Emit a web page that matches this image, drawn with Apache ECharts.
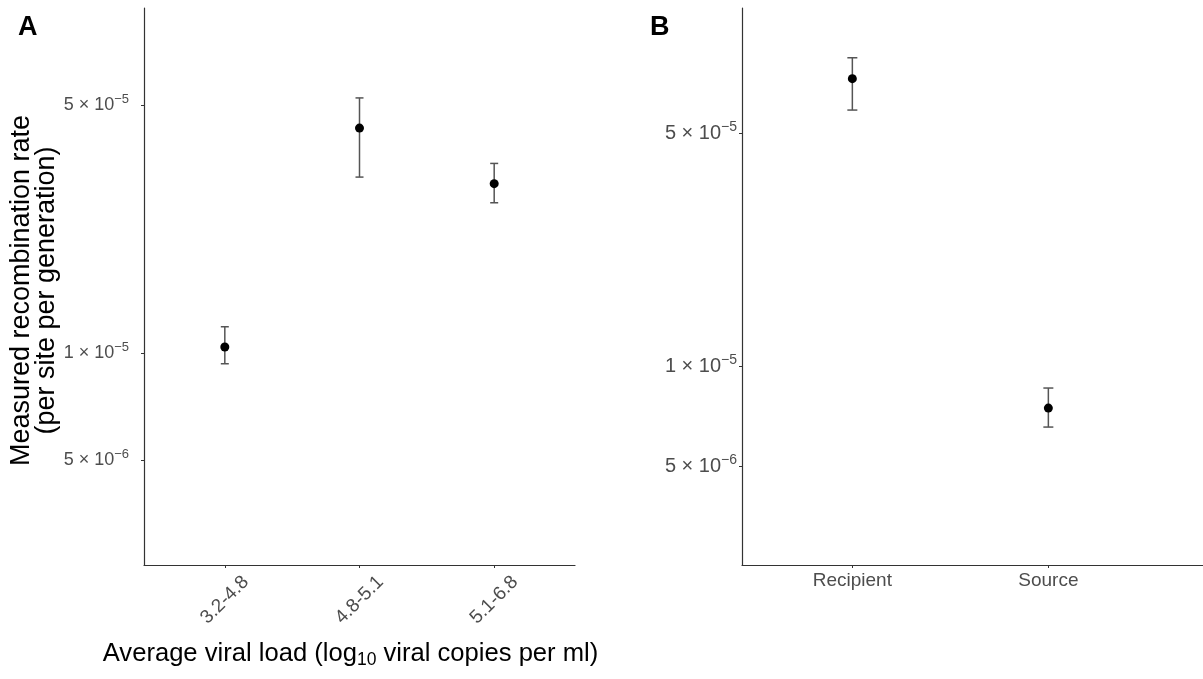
<!DOCTYPE html>
<html>
<head>
<meta charset="utf-8">
<title>Measured recombination rate</title>
<script src="https://cdn.jsdelivr.net/npm/echarts@6/dist/echarts.min.js"></script>
<style>
  html, body { margin: 0; padding: 0; background: #ffffff; }
  #chart { width: 1203px; height: 679px; }
</style>
</head>
<body>
<div id="chart"></div>
<script>
// Panel A: recombination rate by viral-load bin
const loadBins = ['3.2-4.8', '4.8-5.1', '5.1-6.8'];
const rateByLoad = [1.04e-5, 4.30e-5, 3.00e-5];
const lowerByLoad = [9.33e-6, 3.13e-5, 2.65e-5];
const upperByLoad = [1.186e-5, 5.23e-5, 3.42e-5];

// Panel B: recombination rate in recipient vs source
const roles = ['Recipient', 'Source'];
const rateByRole = [7.28e-5, 7.48e-6];
const lowerByRole = [5.86e-5, 6.56e-6];
const upperByRole = [8.41e-5, 8.59e-6];

// Log-axis tick positions and their labels (mantissa × 10^exponent)
const yTicks = [5e-6, 1e-5, 5e-5];
const yTickMantissa = ['5', '1', '5'];
const yTickExponent = ['\u22126', '\u22125', '\u22125'];

const FONT = 'Liberation Sans, Arial, sans-serif';
const AXIS_COLOR = '#333333';
const LABEL_COLOR = '#4d4d4d';

function tickLabel(v) {
  let best = 0;
  for (let i = 1; i < yTicks.length; i++) {
    if (Math.abs(Math.log10(yTicks[i]) - Math.log10(v)) < Math.abs(Math.log10(yTicks[best]) - Math.log10(v))) best = i;
  }
  return '{m|' + yTickMantissa[best] + ' \u00d7 10}{e|' + yTickExponent[best] + '}';
}

function richTicks(size) {
  return {
    m: { fontSize: size, lineHeight: size + 6, verticalAlign: 'middle', color: LABEL_COLOR, fontFamily: FONT },
    e: { fontSize: Math.round(size * 0.7), lineHeight: Math.round(size * 0.7), verticalAlign: 'top', color: LABEL_COLOR, fontFamily: FONT }
  };
}

function pointData(values) {
  return values.map((v, i) => [i, v]);
}
function barData(lower, upper) {
  return lower.map((lo, i) => [i, lo, upper[i]]);
}

function errorBarRenderer(capHalf) {
  return function (params, api) {
    const x = api.value(0);
    const lo = api.coord([x, api.value(1)]);
    const hi = api.coord([x, api.value(2)]);
    const style = { stroke: '#555555', lineWidth: 1.5 };
    return {
      type: 'group',
      children: [
        { type: 'line', shape: { x1: lo[0], y1: lo[1], x2: hi[0], y2: hi[1] }, style: style },
        { type: 'line', shape: { x1: hi[0] - capHalf, y1: hi[1], x2: hi[0] + capHalf, y2: hi[1] }, style: style },
        { type: 'line', shape: { x1: lo[0] - capHalf, y1: lo[1], x2: lo[0] + capHalf, y2: lo[1] }, style: style }
      ]
    };
  };
}

const axisLine = { show: true, onZero: false, lineStyle: { color: AXIS_COLOR, width: 1.2 } };
const axisTick = { show: true, length: 3, lineStyle: { color: AXIS_COLOR, width: 1 } };

const chart = echarts.init(document.getElementById('chart'), null, { renderer: 'canvas' });

chart.setOption({
  animation: false,
  backgroundColor: '#ffffff',
  textStyle: { fontFamily: FONT },
  graphic: [
    { type: 'text', left: 18, top: 14, style: { text: 'A', fontSize: 27, fontWeight: 'bold', fontFamily: FONT, fill: '#000' } },
    { type: 'text', left: 650, top: 14, style: { text: 'B', fontSize: 27, fontWeight: 'bold', fontFamily: FONT, fill: '#000' } }
  ],
  grid: [
    { left: 144, top: 8, width: 431, height: 557 },
    { left: 742, top: 8, width: 461, height: 557 }
  ],
  xAxis: [
    {
      gridIndex: 0, type: 'value', min: -0.6, max: 2.6,
      axisLine: axisLine,
      axisTick: Object.assign({}, axisTick, { customValues: [0, 1, 2] }),
      splitLine: { show: false },
      axisLabel: {
        customValues: [0, 1, 2],
        rotate: 45, align: 'center', verticalAlign: 'middle', margin: 35,
        fontSize: 19, color: LABEL_COLOR, fontFamily: FONT,
        formatter: v => loadBins[Math.round(v)]
      },
      name: '{t|Average viral load (log}{s|10}{t| viral copies per ml)}',
      nameLocation: 'middle', nameGap: 89,
      nameTextStyle: {
        verticalAlign: 'middle', align: 'center', padding: [0, 18, 0, 0],
        rich: {
          t: { fontSize: 25.6, lineHeight: 30, verticalAlign: 'middle', color: '#000', fontFamily: FONT },
          s: { fontSize: 17.5, lineHeight: 17, verticalAlign: 'bottom', color: '#000', fontFamily: FONT }
        }
      }
    },
    {
      gridIndex: 1, type: 'value', min: -0.563, max: 1.789,
      axisLine: axisLine,
      axisTick: Object.assign({}, axisTick, { customValues: [0, 1] }),
      splitLine: { show: false },
      axisLabel: {
        customValues: [0, 1], margin: 6,
        fontSize: 19, color: LABEL_COLOR, fontFamily: FONT,
        formatter: v => roles[Math.round(v)]
      }
    }
  ],
  yAxis: [
    {
      gridIndex: 0, type: 'log', logBase: 10, min: 2.53e-6, max: 9.37e-5,
      axisLine: axisLine,
      axisTick: Object.assign({}, axisTick, { customValues: yTicks }),
      splitLine: { show: false },
      axisLabel: { customValues: yTicks, margin: 15, formatter: tickLabel, rich: richTicks(18) },
      name: 'Measured recombination rate\n(per site per generation)',
      nameLocation: 'middle', nameRotate: 90, nameGap: 107,
      nameTextStyle: { fontSize: 27, lineHeight: 25, color: '#000', fontFamily: FONT, align: 'center', verticalAlign: 'middle', padding: [0, 8, 0, 0] }
    },
    {
      gridIndex: 1, type: 'log', logBase: 10, min: 2.53e-6, max: 1.186e-4,
      axisLine: axisLine,
      axisTick: Object.assign({}, axisTick, { customValues: yTicks }),
      splitLine: { show: false },
      axisLabel: { customValues: yTicks, margin: 5, formatter: tickLabel, rich: richTicks(20) }
    }
  ],
  series: [
    {
      type: 'custom', xAxisIndex: 0, yAxisIndex: 0,
      renderItem: errorBarRenderer(4),
      data: barData(lowerByLoad, upperByLoad), z: 2
    },
    {
      type: 'scatter', xAxisIndex: 0, yAxisIndex: 0,
      symbol: 'circle', symbolSize: 9,
      itemStyle: { color: '#000000', opacity: 1 },
      data: pointData(rateByLoad), z: 3
    },
    {
      type: 'custom', xAxisIndex: 1, yAxisIndex: 1,
      renderItem: errorBarRenderer(5),
      data: barData(lowerByRole, upperByRole), z: 2
    },
    {
      type: 'scatter', xAxisIndex: 1, yAxisIndex: 1,
      symbol: 'circle', symbolSize: 9,
      itemStyle: { color: '#000000', opacity: 1 },
      data: pointData(rateByRole), z: 3
    }
  ]
});
</script>
</body>
</html>
